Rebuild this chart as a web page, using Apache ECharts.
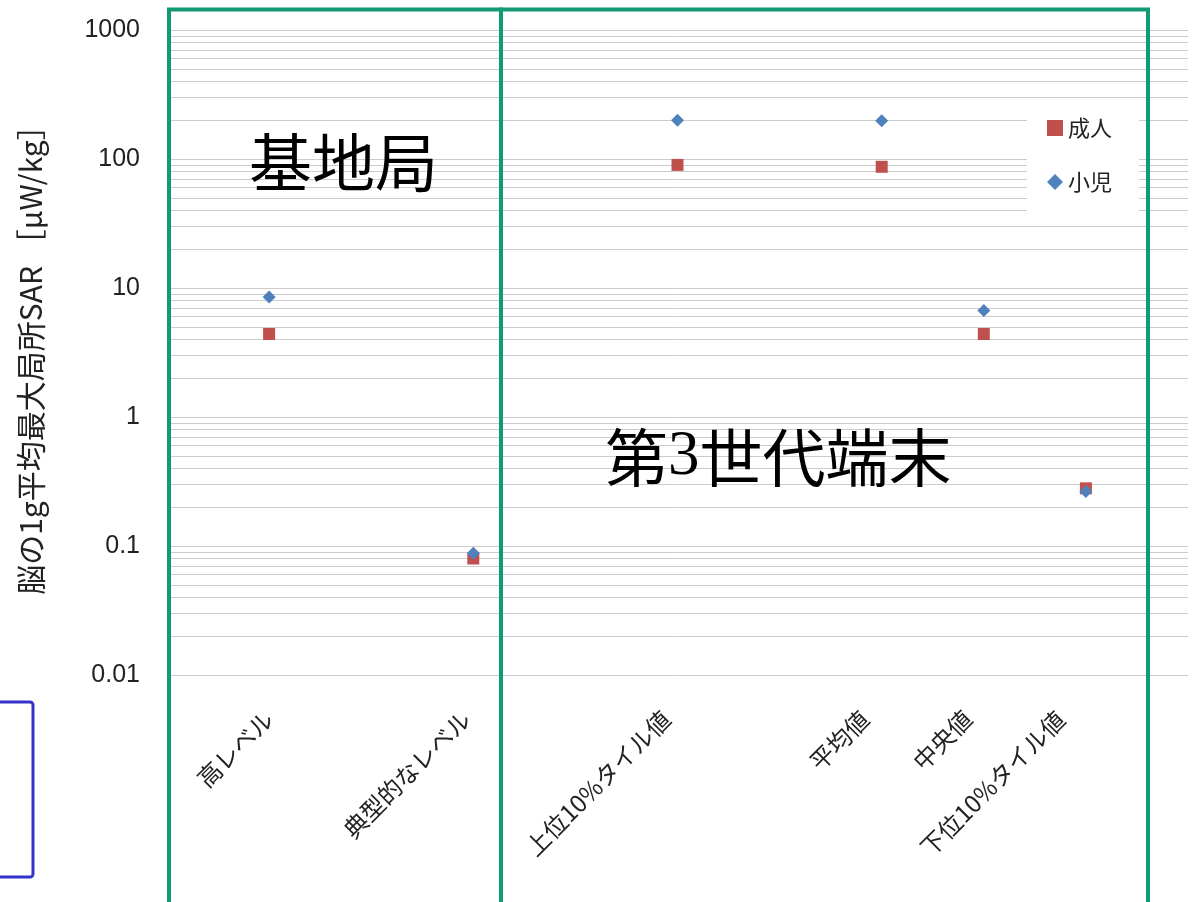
<!DOCTYPE html>
<html><head><meta charset="utf-8">
<script src="https://cdn.jsdelivr.net/npm/echarts@6/dist/echarts.min.js"></script>
<style>html,body{margin:0;padding:0;background:#fff}#c{width:1193px;height:902px}</style>
</head><body><div id="c"></div>
<script>
// Categories (empty slots keep the reference spacing)
const categories = ['', '高レベル', '', '典型的なレベル', '', '上位10%タイル値', '', '平均値', '中央値', '下位10%タイル値', ''];
// 成人 (adult) values, µW/kg
const adult = ['-', 4.4, '-', 0.08, '-', 90, '-', 87, 4.4, 0.28, '-'];
// 小児 (child) values, µW/kg
const child = ['-', 8.5, '-', 0.088, '-', 200, '-', 198, 6.7, 0.265, '-'];
// Y tick labels
const yTicks = [0.01, 0.1, 1, 10, 100, 1000];
// Minor gridline multipliers within each decade
const minorMultipliers = [2, 3, 4, 5, 6, 7, 8, 9];
const seriesNames = ['成人', '小児'];
const yName = '脳の1g平均最大局所SAR ［μW/kg］';

// Style only: horizontal leftward nudge (px) of each x label, as in the reference layout
const labelNudge = [0, 0, 0, 7, 0, 11, 0, 17, 16, 25, 0];

const minorLines = [];
for (let i = 0; i < yTicks.length - 1; i++) {
  for (const m of minorMultipliers) minorLines.push({ yAxis: yTicks[i] * m });
}

const jp = '"Noto Sans CJK JP", "Noto Sans", sans-serif';
const gridColor = '#cccccc';
const labelFont = 24;
const rich = {};
labelNudge.forEach((d, i) => {
  rich['s' + i] = { fontSize: labelFont, fontFamily: jp, color: '#222',
    padding: [0, Math.round(d * 0.707), Math.round(d * 1.414), 0] };
});

const chart = echarts.init(document.getElementById('c'));
chart.setOption({
  backgroundColor: '#fff',
  animation: false,
  grid: { left: 167, right: 5, top: 30, bottom: 227, containLabel: false },
  legend: {
    orient: 'vertical', left: 1027, top: 100, z: 10,
    padding: [17, 27, 27, 20],
    backgroundColor: '#fff',
    itemWidth: 16, itemHeight: 16, itemGap: 32,
    selectedMode: false,
    textStyle: { fontSize: 22, lineHeight: 22, color: '#222', fontFamily: jp },
    data: [{ name: seriesNames[0], icon: 'rect' }, { name: seriesNames[1], icon: 'diamond' }]
  },
  xAxis: {
    type: 'category', data: categories, boundaryGap: false,
    axisLine: { show: false }, axisTick: { show: false }, splitLine: { show: false },
    axisLabel: {
      rotate: 45, interval: 0, fontSize: labelFont, color: '#222', fontFamily: jp, margin: 40,
      formatter: (v, i) => v ? '{s' + i + '|' + v + '}' : '',
      rich: rich
    }
  },
  yAxis: {
    type: 'log', logBase: 10, min: yTicks[0], max: yTicks[yTicks.length - 1],
    name: yName, nameLocation: 'middle', nameGap: 121, nameRotate: 90,
    nameTextStyle: { fontSize: 30, color: '#222', fontFamily: jp },
    axisLine: { show: false }, axisTick: { show: false },
    axisLabel: {
      fontSize: 25, color: '#222', fontFamily: '"Liberation Sans", sans-serif', margin: 27,
      formatter: v => { const t = yTicks.find(t => Math.abs(Math.log10(t) - Math.log10(v)) < 1e-6); return t === undefined ? '' : String(t); }
    },
    splitLine: { show: true, lineStyle: { color: gridColor, width: 1 } }
  },
  series: [
    {
      type: 'line', name: 'grid-minor', data: categories.map(() => '-'), z: 1, silent: true,
      showSymbol: false, lineStyle: { opacity: 0 },
      markLine: { z: 1, silent: true, symbol: ['none', 'none'], label: { show: false },
        lineStyle: { color: gridColor, width: 1, type: 'solid' }, emphasis: { disabled: true },
        data: minorLines }
    },
    { type: 'scatter', name: seriesNames[0], data: adult, symbol: 'rect', symbolSize: 12, z: 3,
      itemStyle: { color: '#C0504D', opacity: 1 } },
    { type: 'scatter', name: seriesNames[1], data: child, symbol: 'diamond', symbolSize: 13, z: 4,
      itemStyle: { color: '#4F81BD', opacity: 1 } }
  ],
  graphic: [
    { type: 'rect', z: 100, shape: { x: 169, y: 9.5, width: 332, height: 920 }, style: { fill: 'none', stroke: '#119A73', lineWidth: 4 } },
    { type: 'rect', z: 100, shape: { x: 501, y: 9.5, width: 647, height: 920 }, style: { fill: 'none', stroke: '#119A73', lineWidth: 4 } },
    { type: 'rect', z: 100, shape: { x: -10, y: 702, width: 43, height: 175, r: 3 }, style: { fill: 'none', stroke: '#3333CC', lineWidth: 3 } },
    { type: 'text', z: 100, left: 249, top: 131, style: { text: '基地局', fontSize: 63, fill: '#000', fontFamily: jp } },
    { type: 'text', z: 100, left: 605, top: 426, style: {
        text: '{a|第}{b|3}{a|世代端末}', fill: '#000',
        rich: { a: { fontSize: 63, fontFamily: jp, fill: '#000' }, b: { fontSize: 63, fontFamily: '"Liberation Serif", serif', fill: '#000' } } } }
  ]
});
</script></body></html>
